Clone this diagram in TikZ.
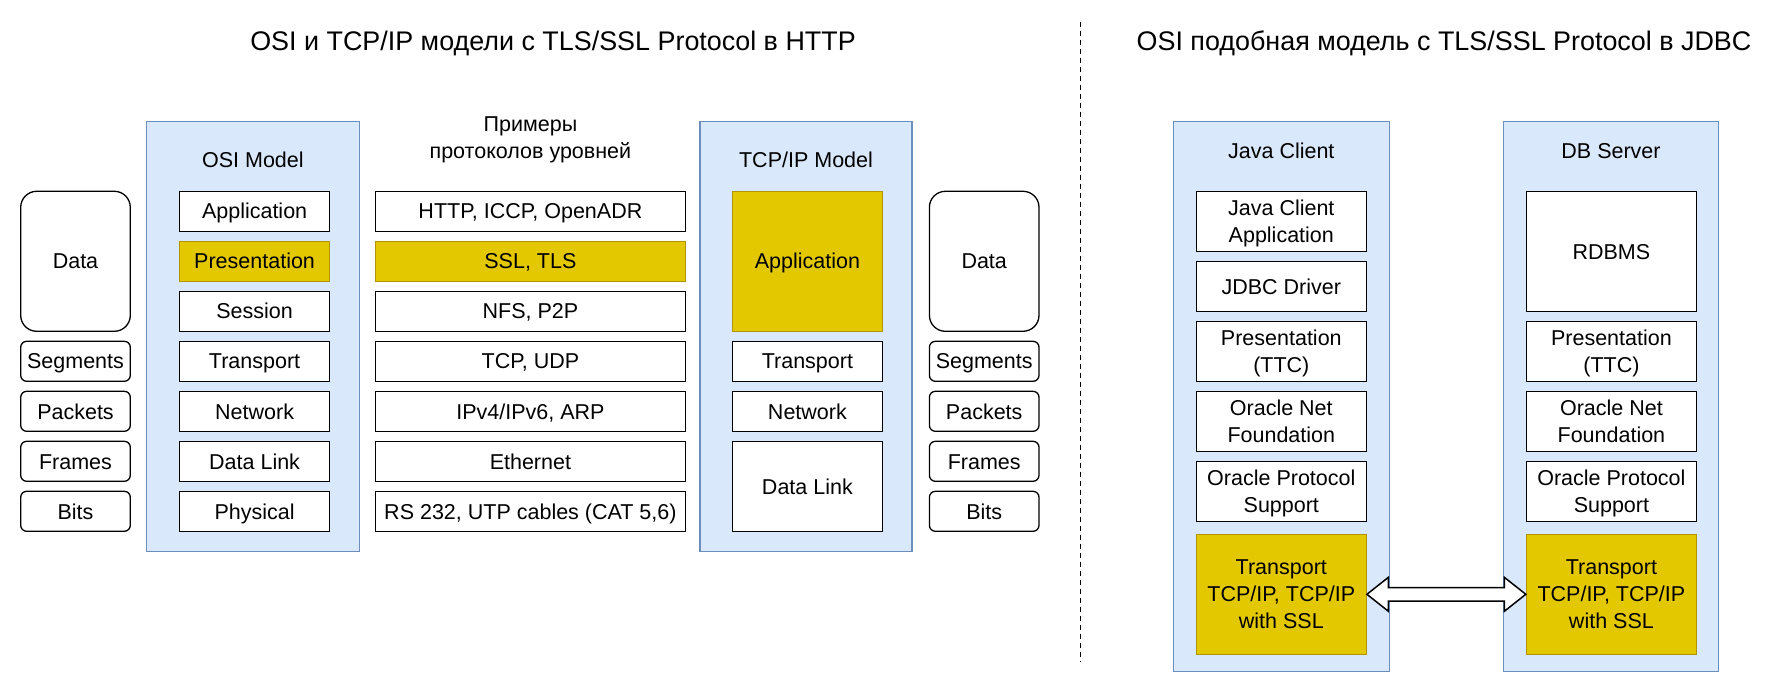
\documentclass[tikz,border=0pt]{standalone}
\usepackage{fontspec}
\setmainfont{Liberation Sans}
\usetikzlibrary{calc}
\definecolor{blueF}{HTML}{DAE8FC}
\definecolor{blueD}{HTML}{6C8EBF}
\definecolor{yelF}{HTML}{E3C800}
\definecolor{yelD}{HTML}{B09500}
\tikzset{
  body/.style={font=\fontsize{21.5}{26.7}\selectfont},
  cont/.style={draw=blueD, fill=blueF, line width=1.3pt, inner sep=0pt, minimum width=#1},
  lay/.style={draw=black, fill=white, line width=1.3pt, inner sep=0pt, align=center, body,
    text height=15.4pt, text depth=0pt},
  ml/.style={text height={}},
  hl/.style={fill=yelF, draw=yelD},
  pdu/.style={lay, rounded corners=6pt, minimum width=109.6pt, minimum height=40pt},
  lbl/.style={body, align=center, inner sep=0pt, text height=15.4pt, text depth=0pt},
  ttl/.style={font=\fontsize{26.9}{32}\selectfont, inner sep=0pt, text height=19.3pt, text depth=0pt},
  arr/.style={draw=black, fill=white, line width=1.5pt, line join=miter},
}
\begin{document}
\begin{tikzpicture}[x=1pt, y=-1pt]
\useasboundingbox (0,0) rectangle (1780,692);

% titles
\node[ttl] (t1) at (553,41.2) {OSI и TCP/IP модели с TLS/SSL Protocol в HTTP};
\node[ttl] (t2) at (1444,41.2) {OSI подобная модель с TLS/SSL Protocol в JDBC};

% divider
\coordinate (dv1) at (1080.3,21.7);
\coordinate (dv2) at (1080.3,661.7);
\draw[line width=1.4pt, dash pattern=on 5pt off 4pt] (dv1) -- (dv2);

% containers
\node[cont=213pt, minimum height=429.6pt] (osi) at (252.9,336.5) {};
\node[cont=212pt, minimum height=429.6pt] (tcp) at (806,336.5) {};
\node[cont=216pt, minimum height=549.6pt] (jc) at (1281.3,396.5) {};
\node[cont=215.3pt, minimum height=549.6pt] (db) at (1611,396.5) {};

\node[lbl] (osil) at (252.9,160) {OSI Model};
\node[lbl] (tcpl) at (806,160) {TCP/IP Model};
\node[lbl, ml] (prl) at (530.4,137.4) {Примеры\\протоколов уровней};
\node[lbl] (jcl) at (1281.3,150.7) {Java Client};
\node[lbl] (dbl) at (1611,150.7) {DB Server};

% left PDUs
\node[pdu, rounded corners=16pt, minimum height=140pt] (d1) at (75.5,261.3) {Data};
\node[pdu] (s1) at (75.5,361.3) {Segments};
\node[pdu] (p1) at (75.5,411.3) {Packets};
\node[pdu] (f1) at (75.5,461.3) {Frames};
\node[pdu] (b1) at (75.5,511.3) {Bits};

% right PDUs
\node[pdu, rounded corners=16pt, minimum height=140pt] (d2) at (984.2,261.3) {Data};
\node[pdu] (s2) at (984.2,361.3) {Segments};
\node[pdu] (p2) at (984.2,411.3) {Packets};
\node[pdu] (f2) at (984.2,461.3) {Frames};
\node[pdu] (b2) at (984.2,511.3) {Bits};

% OSI layers
\tikzset{osil/.style={lay, minimum width=149.8pt, minimum height=40pt}}
\node[osil] (o1) at (254.6,211.3) {Application};
\node[osil, hl] (o2) at (254.6,261.3) {Presentation};
\node[osil] (o3) at (254.6,311.3) {Session};
\node[osil] (o4) at (254.6,361.3) {Transport};
\node[osil] (o5) at (254.6,411.3) {Network};
\node[osil] (o6) at (254.6,461.3) {Data Link};
\node[osil] (o7) at (254.6,511.3) {Physical};

% protocol examples
\tikzset{prot/.style={lay, minimum width=310pt, minimum height=40pt}}
\node[prot] (e1) at (530.4,211.3) {HTTP, ICCP, OpenADR};
\node[prot, hl] (e2) at (530.4,261.3) {SSL, TLS};
\node[prot] (e3) at (530.4,311.3) {NFS, P2P};
\node[prot] (e4) at (530.4,361.3) {TCP, UDP};
\node[prot] (e5) at (530.4,411.3) {IPv4/IPv6, ARP};
\node[prot] (e6) at (530.4,461.3) {Ethernet};
\node[prot] (e7) at (530.4,511.3) {RS 232, UTP cables (CAT 5,6)};

% TCP/IP layers
\tikzset{tcpl/.style={lay, minimum width=149.8pt}}
\node[tcpl, hl, minimum height=140pt] (c1) at (807.4,261.3) {Application};
\node[tcpl, minimum height=40pt] (c2) at (807.4,361.3) {Transport};
\node[tcpl, minimum height=40pt] (c3) at (807.4,411.3) {Network};
\node[tcpl, minimum height=90pt] (c4) at (807.4,486.3) {Data Link};

% Java client layers
\tikzset{jl/.style={lay, minimum width=169.9pt}}
\node[jl, ml, minimum height=59.6pt] (j1) at (1281.3,221.5) {Java Client\\Application};
\node[jl, minimum height=49.6pt] (j2) at (1281.3,286.5) {JDBC Driver};
\node[jl, ml, minimum height=59.6pt] (j3) at (1281.3,351.5) {Presentation\\(TTC)};
\node[jl, ml, minimum height=60pt] (j4) at (1281.3,421.3) {Oracle Net\\Foundation};
\node[jl, ml, minimum height=60pt] (j5) at (1281.3,491.3) {Oracle Protocol\\Support};
\node[jl, ml, hl, minimum height=120pt] (jt) at (1281.3,594.3) {Transport\\TCP/IP, TCP/IP\\with SSL};

% DB server layers
\node[jl, minimum height=119.6pt] (r1) at (1611.4,251.5) {RDBMS};
\node[jl, ml, minimum height=59.6pt] (r3) at (1611.4,351.5) {Presentation\\(TTC)};
\node[jl, ml, minimum height=60pt] (r4) at (1611.4,421.3) {Oracle Net\\Foundation};
\node[jl, ml, minimum height=60pt] (r5) at (1611.4,491.3) {Oracle Protocol\\Support};
\node[jl, ml, hl, minimum height=120pt] (dt) at (1611.4,594.3) {Transport\\TCP/IP, TCP/IP\\with SSL};

% double arrow between transports
\draw[arr] (jt.east) -- ++(21.5,-17) -- ++(0,10.3)
  -- ($(dt.west)+(-21.5,-6.7)$) -- ++(0,-10.3) -- (dt.west)
  -- ++(-21.5,17) -- ++(0,-10.3)
  -- ($(jt.east)+(21.5,6.7)$) -- ++(0,10.3) -- cycle;
\end{tikzpicture}
\end{document}
